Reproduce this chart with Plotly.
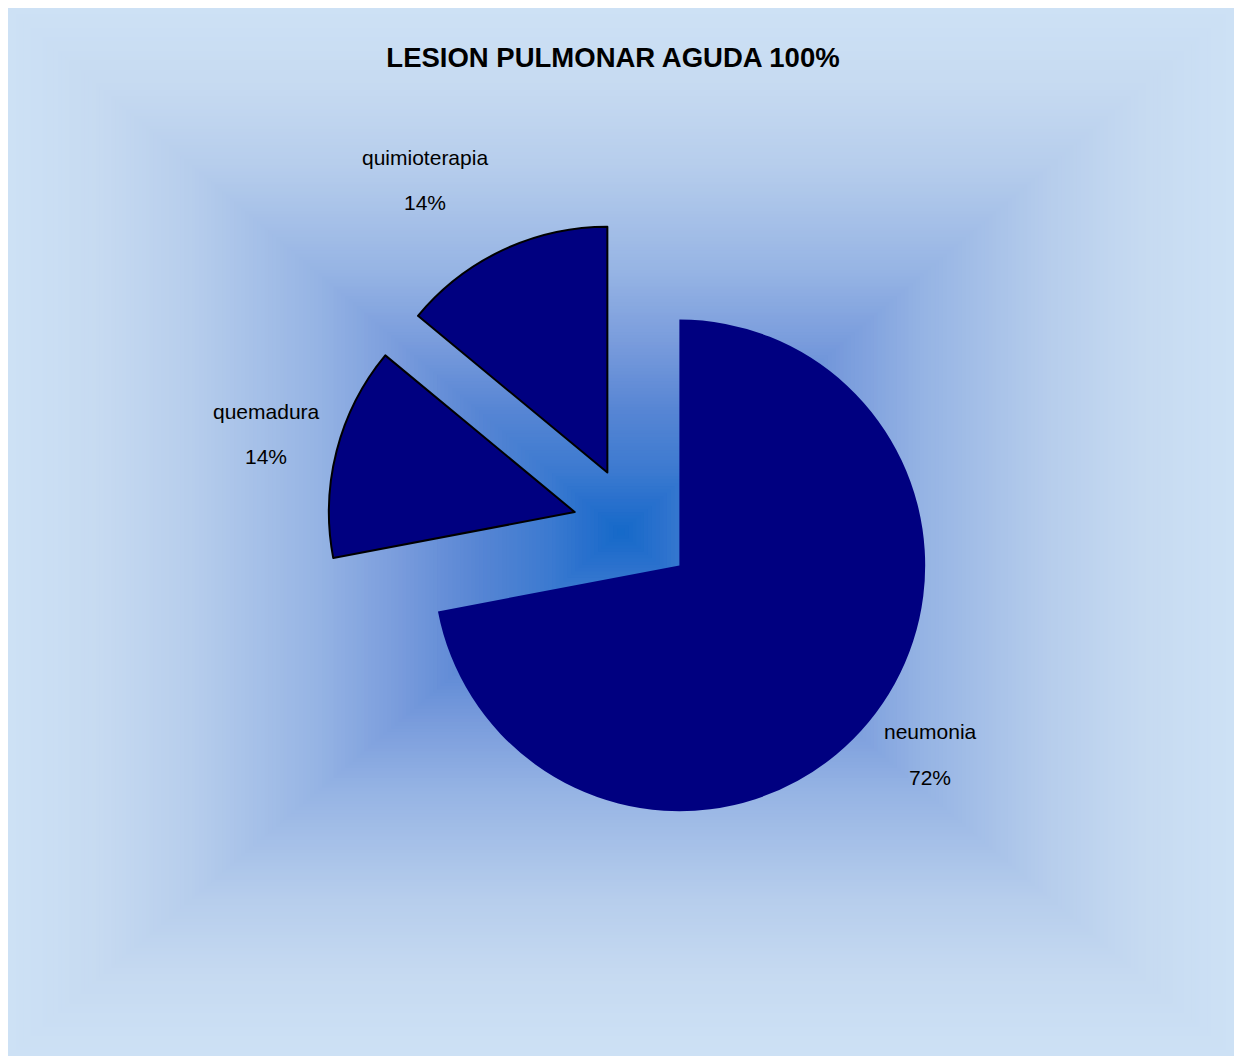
import plotly.graph_objects as go

# Data
categories = ["neumonia", "quemadura", "quimioterapia"]
values = [72, 14, 14]
title_text = "LESION PULMONAR AGUDA 100%"

# Canvas
W, H = 1237, 1057
NAVY = "#000080"
FONT = "Liberation Sans, Arial, sans-serif"

def px(x):
    return x / W

def py(y):
    return 1 - y / H

fig = go.Figure()

# Rectangular "path" gradient background (dark centre, light edges)
grad_stops = [
    (0.00, (20, 105, 200)),
    (0.06, (40, 112, 205)),
    (0.12, (60, 122, 208)),
    (0.24, (88, 134, 212)),
    (0.36, (120, 155, 220)),
    (0.50, (150, 180, 228)),
    (0.70, (182, 205, 236)),
    (0.85, (198, 218, 241)),
    (1.00, (205, 225, 245)),
]

def grad_color(t):
    for (t0, c0), (t1, c1) in zip(grad_stops[:-1], grad_stops[1:]):
        if t <= t1:
            f = (t - t0) / (t1 - t0) if t1 > t0 else 0
            return "rgb(%d,%d,%d)" % tuple(round(a + (b - a) * f) for a, b in zip(c0, c1))
    return "rgb(%d,%d,%d)" % grad_stops[-1][1]

bg_cx, bg_cy, bg_hw, bg_hh = 621, 532, 613, 524
steps = 160
shapes = []
for i in range(steps, 0, -1):
    t = i / steps
    shapes.append(dict(
        type="rect", xref="paper", yref="paper", layer="below",
        x0=px(bg_cx - t * bg_hw), x1=px(bg_cx + t * bg_hw),
        y0=py(bg_cy + t * bg_hh), y1=py(bg_cy - t * bg_hh),
        fillcolor=grad_color(t), line=dict(width=0),
    ))

# Exploded pie
pie_cx, pie_cy, pie_half = 633, 527, 306
fig.add_trace(go.Pie(
    labels=categories,
    values=values,
    sort=False,
    direction="clockwise",
    rotation=0,
    pull=[0.245, 0.245, 0.245],
    textinfo="none",
    hoverinfo="label+percent",
    showlegend=False,
    marker=dict(colors=[NAVY] * len(values),
                line=dict(color="black", width=[0, 2, 2])),
    domain=dict(x=[px(pie_cx - pie_half), px(pie_cx + pie_half)],
                y=[py(pie_cy + pie_half), py(pie_cy - pie_half)]),
))

# Category / percentage labels
label_xy = {"neumonia": (930, 754), "quemadura": (266, 434), "quimioterapia": (425, 180)}
total = sum(values)
annotations = []
for cat, v in zip(categories, values):
    lx, ly = label_xy[cat]
    for txt, dy in ((cat, -23), (f"{v / total * 100:.0f}%", 23)):
        annotations.append(dict(
            x=px(lx), y=py(ly + dy), xref="paper", yref="paper",
            text=txt, showarrow=False, xanchor="center", yanchor="middle",
            font=dict(family=FONT, size=21, color="black"),
        ))

fig.update_layout(
    width=W, height=H,
    margin=dict(l=0, r=0, t=0, b=0),
    paper_bgcolor="white",
    plot_bgcolor="rgba(0,0,0,0)",
    xaxis=dict(visible=False), yaxis=dict(visible=False),
    shapes=shapes,
    annotations=annotations,
    title=dict(text=f"<b>{title_text}</b>", x=px(613), xanchor="center",
               y=py(57), yanchor="middle",
               font=dict(family=FONT, size=27.5, color="black")),
)

fig.write_html("out.html")
